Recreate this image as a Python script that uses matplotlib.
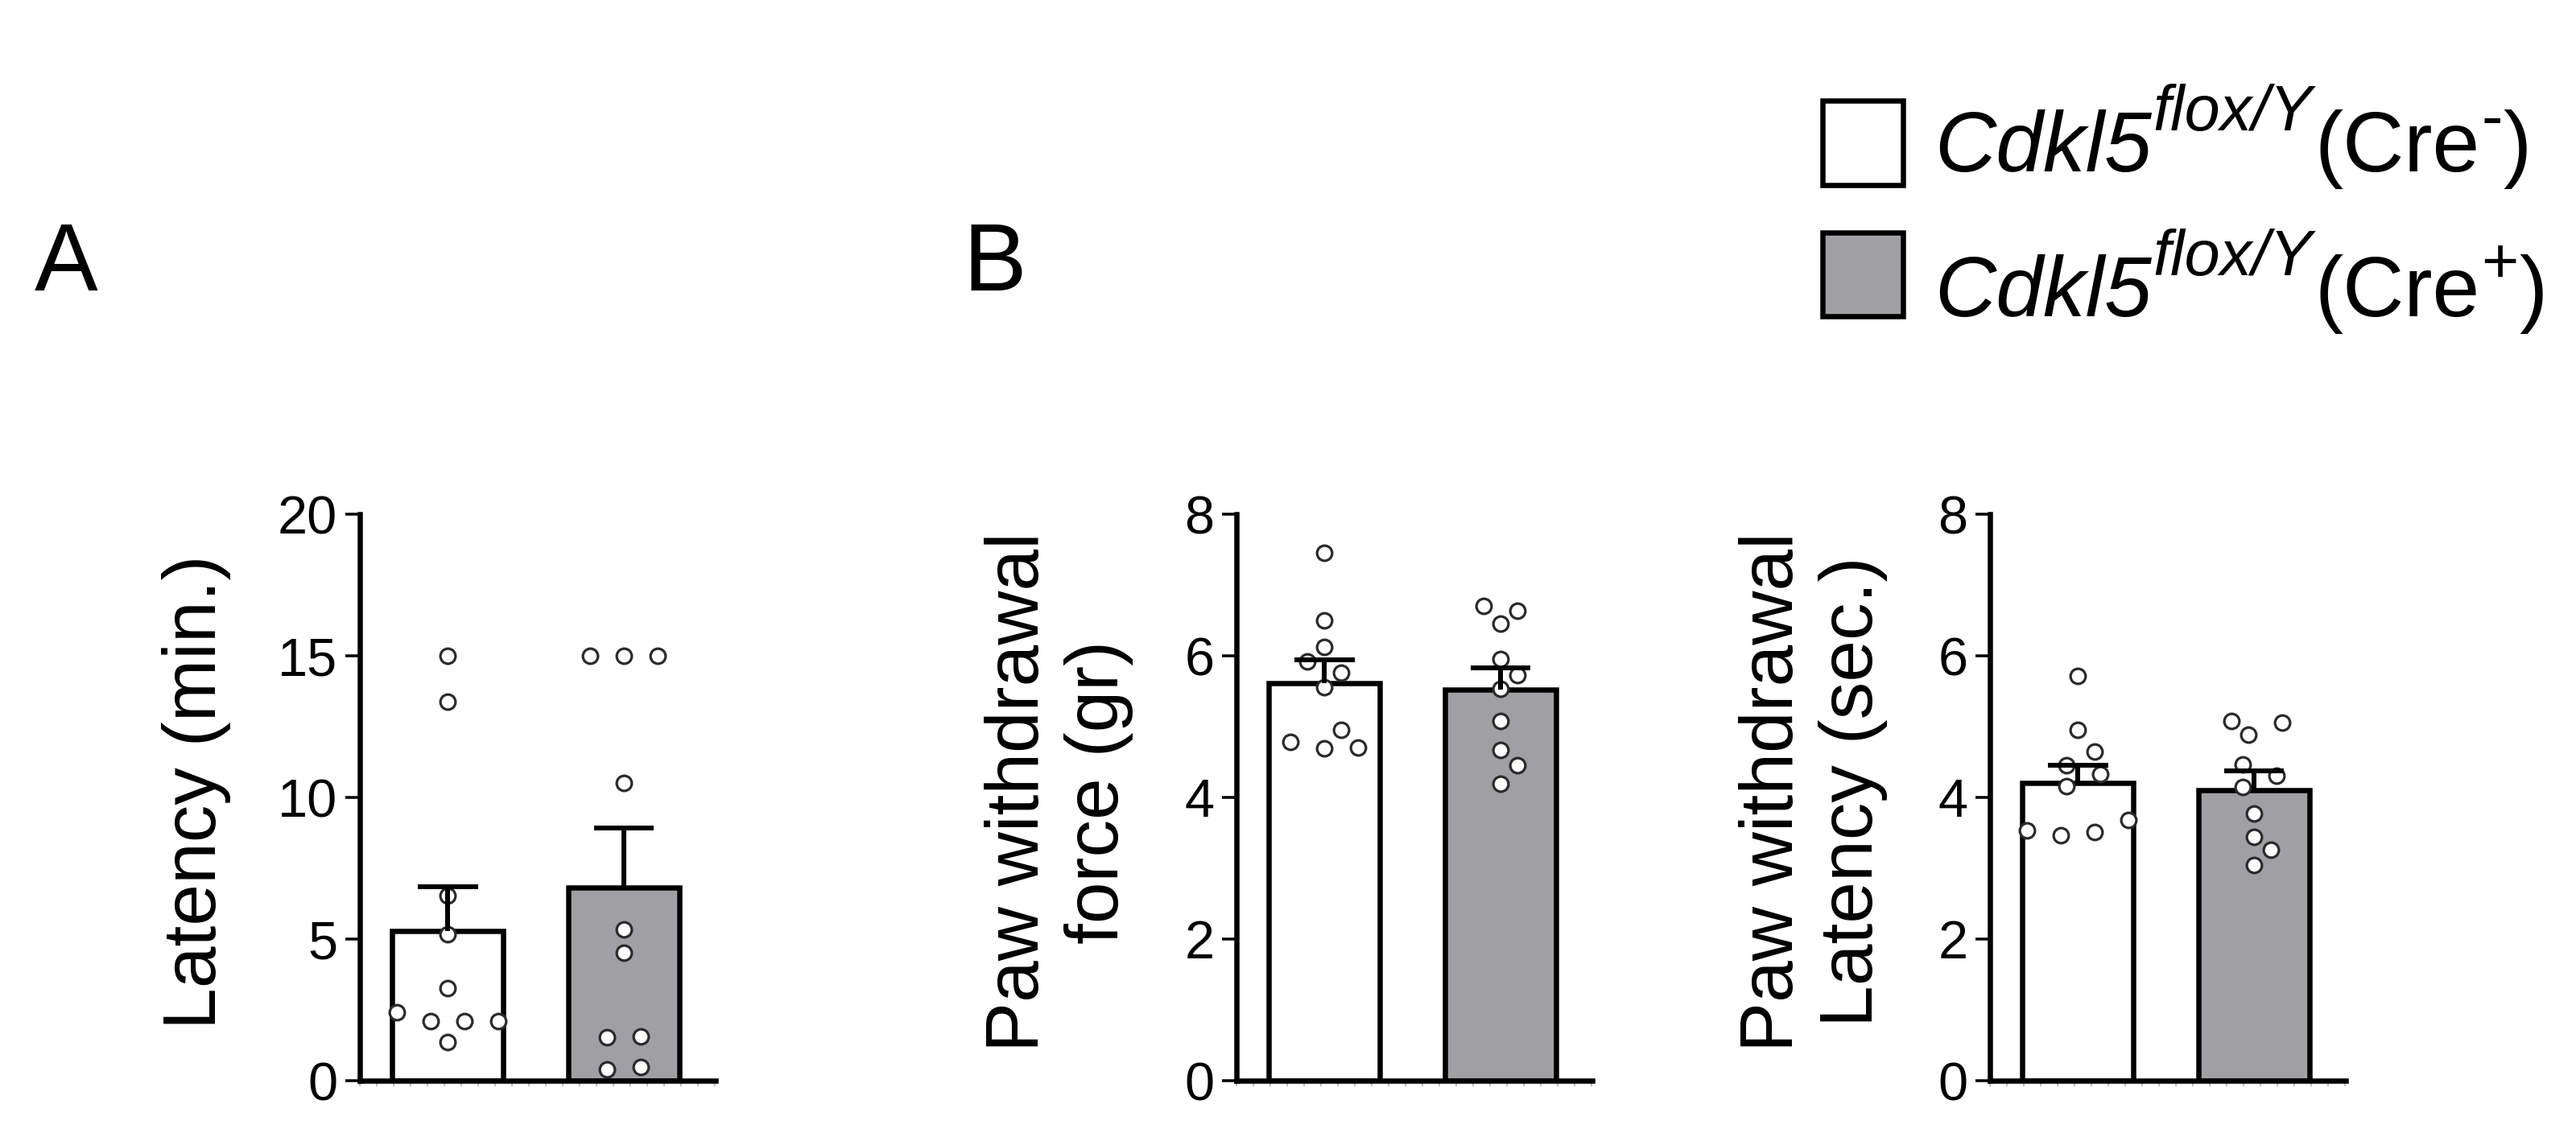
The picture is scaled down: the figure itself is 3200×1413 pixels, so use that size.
import numpy as np
import matplotlib
matplotlib.use("Agg")
import matplotlib.pyplot as plt
from matplotlib.patches import Rectangle
from matplotlib.ticker import FixedLocator

# ---------------- data ----------------
groups = ["Cre-", "Cre+"]

latency_cre_neg = [15.0, 13.37, 6.53, 5.16, 3.27, 2.42, 2.09, 2.09, 2.09, 1.36]
latency_cre_pos = [15.0, 15.0, 15.0, 10.52, 5.35, 4.53, 1.53, 1.55, 0.40, 0.49]
latency_mean = [5.28, 6.83]
latency_sem = [1.58, 2.08]

force_cre_neg = [7.46, 6.50, 6.125, 5.92, 5.76, 5.56, 4.96, 4.78, 4.71, 4.69]
force_cre_pos = [6.70, 6.64, 6.45, 5.96, 5.73, 5.53, 5.08, 4.67, 4.46, 4.19]
force_mean = [5.61, 5.52]
force_sem = [0.33, 0.31]

pwl_cre_neg = [5.72, 4.95, 4.65, 4.46, 4.33, 4.16, 3.68, 3.53, 3.51, 3.47]
pwl_cre_pos = [5.08, 5.06, 4.89, 4.47, 4.31, 4.15, 3.77, 3.44, 3.26, 3.05]
pwl_mean = [4.20, 4.10]
pwl_sem = [0.26, 0.28]

latency_ticks = [0, 5, 10, 15, 20]
paw_ticks = [0, 2, 4, 6, 8]

ylabel_latency = "Latency (min.)"
ylabel_force = "Paw withdrawal\nforce (gr)"
ylabel_pwl = "Paw withdrawal\nLatency (sec.)"

legend_gene = "Cdkl5"
legend_allele = "flox/Y"
legend_cre = "(Cre"
legend_signs = ["-", "+"]

# ---------------- style ----------------
plt.rcParams["font.family"] = ["Liberation Sans", "DejaVu Sans"]

W, H, DPI = 3200, 1413, 100
PX = 72.0 / DPI  # points per pixel

bar_colors = ["white", "#a0a0a4"]
edge_lw = 6.5 * PX
err_lw = 6.0 * PX
cap_half = 0.17
bar_width = 0.63
xlim = (-0.5, 1.52)

fig = plt.figure(figsize=(W / DPI, H / DPI), dpi=DPI)
fig.patch.set_facecolor("white")

ax_w_px = 442
ax_top_px, ax_bot_px = 639, 1343
ax_h_px = ax_bot_px - ax_top_px


def fig_rect(left_px):
    return [left_px / W, 1 - ax_bot_px / H, ax_w_px / W, ax_h_px / H]


def swarm(values, ppu_x, ppu_y, step=21.0, dmin=26.0):
    vals = np.asarray(values, float)
    n = len(vals)
    order = np.argsort(vals, kind="stable")
    cands = [0]
    for k in range(1, 8):
        cands += [k * step, -k * step]
    xs = np.zeros(n)
    ys = vals * ppu_y
    done = []
    for i in order:
        chosen = cands[-1]
        for c in cands:
            if all(np.hypot(c - xs[j], ys[i] - ys[j]) >= dmin for j in done):
                chosen = c
                break
        xs[i] = chosen
        done.append(i)
    # centre horizontal rows
    clusters, cur = [], [order[0]]
    for a, b in zip(order[:-1], order[1:]):
        if ys[b] - ys[a] < 0.6 * dmin:
            cur.append(b)
        else:
            clusters.append(cur)
            cur = [b]
    clusters.append(cur)
    for cl in clusters:
        if len(cl) < 2:
            continue
        shift = -np.mean(xs[cl])
        if abs(shift) < 1e-9:
            continue
        others = [j for j in range(n) if j not in cl]
        ok = all(np.hypot(xs[i] + shift - xs[j], ys[i] - ys[j]) >= dmin
                 for i in cl for j in others)
        if ok:
            xs[cl] += shift
    return xs / ppu_x


def panel(left_px, pts_list, means, sems, ticks, ylabel, label_x):
    ax = fig.add_axes(fig_rect(left_px))
    ymax = ticks[-1]
    ax.set_xlim(*xlim)
    ax.set_ylim(0, ymax)
    ppu_x = ax_w_px / (xlim[1] - xlim[0])
    ppu_y = ax_h_px / ymax
    xs = np.arange(len(means))
    ax.bar(xs, means, width=bar_width, color=bar_colors, edgecolor="black",
           linewidth=edge_lw, zorder=2)
    for xi, pts in zip(xs, pts_list):
        offs = swarm(pts, ppu_x, ppu_y)
        ax.plot(xi + offs, pts, "o", ms=13.5, mfc="white", mec="#2a2a2a",
                mew=2.3, ls="none", zorder=3, clip_on=False)
    tops = np.asarray(means) + np.asarray(sems)
    ax.vlines(xs, means, tops, colors="black", lw=err_lw, zorder=4)
    ax.hlines(tops, xs - cap_half, xs + cap_half, colors="black", lw=err_lw,
              zorder=4)
    for s in ["top", "right"]:
        ax.spines[s].set_visible(False)
    for s in ["left", "bottom"]:
        ax.spines[s].set_linewidth(6.5 * PX)
        ax.spines[s].set_capstyle("projecting")
    ax.set_yticks(ticks)
    ax.set_yticklabels([str(t) for t in ticks])
    ax.tick_params(axis="y", length=18 * PX, width=3.5 * PX, pad=7,
                   labelsize=48, colors="black")
    ax.set_xticks([])
    step = 21.0 / ppu_x
    ax.xaxis.set_minor_locator(FixedLocator(np.arange(xlim[0], xlim[1], step)))
    ax.tick_params(axis="x", which="minor", length=7 * PX, width=2 * PX,
                   color="#bdbdbd", direction="out")
    ax.set_ylabel(ylabel, fontsize=67, linespacing=1.2)
    ax.yaxis.set_label_coords(label_x, 0.51)
    ax.patch.set_alpha(0)
    return ax


panel(447, [latency_cre_neg, latency_cre_pos], latency_mean, latency_sem,
      latency_ticks, ylabel_latency, (287 - 447) / ax_w_px)
panel(1536, [force_cre_neg, force_cre_pos], force_mean, force_sem,
      paw_ticks, ylabel_force, (1408 - 1536) / ax_w_px)
panel(2472, [pwl_cre_neg, pwl_cre_pos], pwl_mean, pwl_sem,
      paw_ticks, ylabel_pwl, (2345 - 2472) / ax_w_px)

# panel letters
fig.text(43 / W, 1 - 361 / H, "A", fontsize=85, ha="left", va="baseline")
fig.text(1196 / W, 1 - 361 / H, "B", fontsize=85, ha="left", va="baseline")

# legend
renderer = fig.canvas.get_renderer()
MAIN_FS, SUP_FS = 76, 57


def put(x_px, base_px, s, fs, **kw):
    t = fig.text(x_px / W, 1 - base_px / H, s, fontsize=fs, ha="left",
                 va="baseline", **kw)
    return t.get_window_extent(renderer).x1


box_specs = [(2264, 125, 100, 105), (2264, 289, 100, 104)]
baselines = [213, 393]
for (bx, by, bw, bh), col, sign, bl in zip(box_specs, bar_colors,
                                           legend_signs, baselines):
    fig.add_artist(Rectangle((bx / W, 1 - (by + bh) / H), bw / W, bh / H,
                             transform=fig.transFigure, facecolor=col,
                             edgecolor="black", linewidth=6.5 * PX))
    x = put(2403, bl, legend_gene, MAIN_FS, style="italic")
    x = put(x + 2, bl - 51, legend_allele, SUP_FS, style="italic")
    x = put(x + 3, bl, legend_cre, MAIN_FS)
    x = put(x + 1, bl - 42, sign, SUP_FS)
    put(x + 1, bl, ")", MAIN_FS)

fig.savefig("out.png", dpi=DPI, facecolor="white")
